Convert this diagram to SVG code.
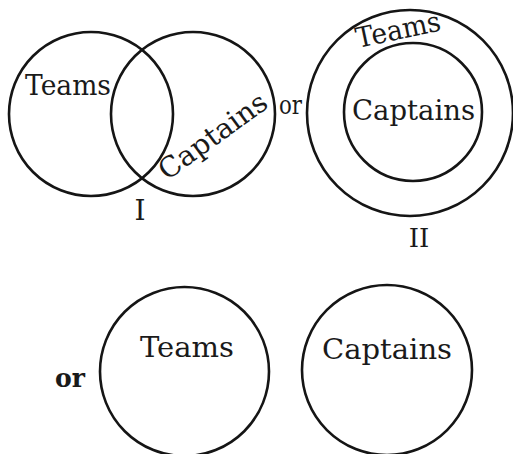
<svg xmlns="http://www.w3.org/2000/svg" width="513" height="454" viewBox="0 0 513 454">
<style>
.c{fill:none;stroke:#151515;stroke-width:2.6}
.t{font-family:"DejaVu Serif","Liberation Serif",serif;font-size:28px;fill:#1a1a1a}
.o{font-family:"DejaVu Serif","Liberation Serif",serif;font-size:26px;fill:#1a1a1a}
</style>
<rect width="513" height="454" fill="#fff"/>
<g id="fig1">
  <g id="teams1"><circle class="c" cx="91" cy="114" r="82"/>
    <text class="t" x="25" y="95" textLength="86" lengthAdjust="spacingAndGlyphs">Teams</text></g>
  <g id="captains1"><circle class="c" cx="193" cy="114" r="82"/>
    <text class="t" transform="translate(167,181) rotate(-36)" x="0" y="0" textLength="127" lengthAdjust="spacingAndGlyphs">Captains</text></g>
  <text class="t" x="140" y="220" text-anchor="middle">I</text>
</g>
<text class="o" x="279" y="114" textLength="23" lengthAdjust="spacingAndGlyphs">or</text>
<g id="fig2">
  <g id="teams2"><circle class="c" cx="410" cy="113" r="103"/>
    <text class="t" transform="translate(358,48) rotate(-12)" x="0" y="0" textLength="86" lengthAdjust="spacingAndGlyphs">Teams</text></g>
  <g id="captains2"><circle class="c" cx="413" cy="112" r="69"/>
    <text class="t" x="352" y="120" textLength="123" lengthAdjust="spacingAndGlyphs">Captains</text></g>
  <text class="o" x="419" y="247" text-anchor="middle">II</text>
</g>
<text class="o" x="55" y="387" font-size="32" textLength="30" lengthAdjust="spacingAndGlyphs" font-weight="bold">or</text>
<g id="fig3">
  <g id="teams3"><circle class="c" cx="184.5" cy="371.5" r="84.5"/>
    <text class="t" x="140" y="357" textLength="94" lengthAdjust="spacingAndGlyphs">Teams</text></g>
  <g id="captains3"><circle class="c" cx="387" cy="370" r="85"/>
    <text class="t" x="322" y="359" textLength="130" lengthAdjust="spacingAndGlyphs">Captains</text></g>
</g>
<g id="connectors"/>
</svg>
